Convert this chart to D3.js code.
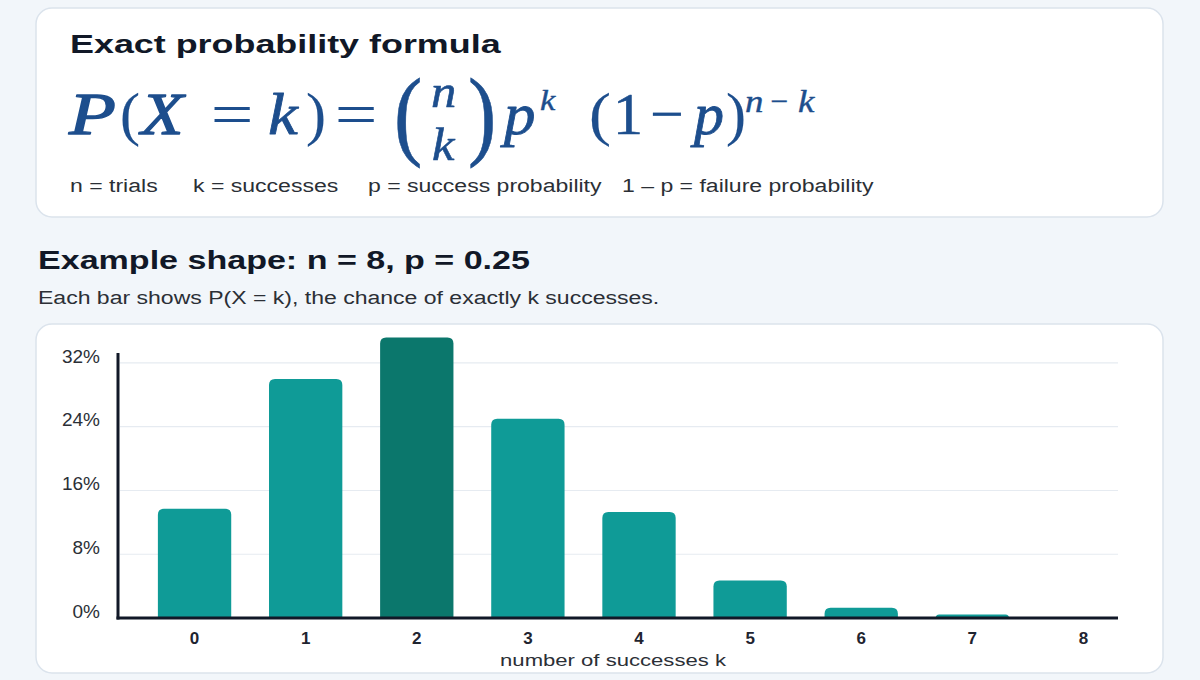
<!DOCTYPE html>
<html><head><meta charset="utf-8">
<script src="https://cdn.jsdelivr.net/npm/d3@7"></script>
<style>
html,body{margin:0;padding:0;background:#f2f6fa;}
svg{display:block;}
</style></head>
<body>
<svg id="c" width="1200" height="680"></svg>
<script>
// ---- data ----
const categories = ["0","1","2","3","4","5","6","7","8"];
const probabilities = [0.137, 0.300, 0.352, 0.250, 0.133, 0.047, 0.013, 0.0045, 0.0];
const yTickValues = [0, 0.08, 0.16, 0.24, 0.32];
const highlightCategory = "2";
const legendItems = ["n = trials", "k = successes", "p = success probability", "1 \u2013 p = failure probability"];
const titleText = "Exact probability formula";
const exampleTitle = "Example shape: n = 8, p = 0.25";
const exampleSub = "Each bar shows P(X = k), the chance of exactly k successes.";
const xAxisLabel = "number of successes k";

const svg = d3.select("#c");
const sans = "'Liberation Sans', Arial, sans-serif";
const serif = "'Liberation Serif', 'Times New Roman', serif";
const ink = "#111827";
const mathBlue = "#1d4e8d";
const bodyInk = "#2b2f36";

function stext(x, y, sx, txt, attrs){
  const t = svg.append("text").attr("transform",`translate(${x},${y}) scale(${sx},1)`).text(txt);
  Object.entries(attrs).forEach(([k,v])=>t.attr(k,v));
  return t;
}

// cards
svg.append("rect").attr("x",36).attr("y",8).attr("width",1127).attr("height",209)
  .attr("rx",16).attr("fill","#ffffff").attr("stroke","#dbe3ec").attr("stroke-width",1.5);
svg.append("rect").attr("x",36).attr("y",324).attr("width",1127).attr("height",349)
  .attr("rx",16).attr("fill","#ffffff").attr("stroke","#dbe3ec").attr("stroke-width",1.5);

// formula card
stext(70, 53, 1.38, titleText, {"font-family":sans,"font-weight":"bold","font-size":26,"fill":ink});

// formula glyph layout: t text, x/y position, s size, i italic, k stroke weight, sx horizontal scale
const pieces = [
  {t:"P", x:69, y:134, s:60, i:true, k:1.3, sx:1.28},
  {t:"(", x:120, y:134, s:60, i:false, k:0.2, sx:1.0},
  {t:"X", x:141, y:134, s:60, i:true, k:1.3, sx:1.16},
  {t:"=", x:211, y:134, s:60, i:false, k:0.2, sx:1.25},
  {t:"k", x:268, y:134, s:60, i:true, k:0.8, sx:1.12},
  {t:")", x:306, y:134, s:60, i:false, k:0.2, sx:1.0},
  {t:"=", x:335, y:134, s:60, i:false, k:0.2, sx:1.25},
  {t:"(", x:394, y:147, s:100, i:false, k:0.6, sx:0.85},
  {t:"n", x:431, y:107, s:46, i:true, k:0.6, sx:1.1},
  {t:"k", x:432, y:160, s:46, i:true, k:0.6, sx:1.1},
  {t:")", x:468, y:147, s:100, i:false, k:0.6, sx:0.85},
  {t:"p", x:504, y:134, s:60, i:true, k:0.8, sx:1.05},
  {t:"k", x:540, y:110, s:30, i:true, k:0.4, sx:1.15},
  {t:"(", x:589, y:134, s:60, i:false, k:0.2, sx:1.1},
  {t:"1", x:613, y:134, s:60, i:false, k:0.6, sx:1.0},
  {t:"\u2212", x:650, y:134, s:60, i:false, k:0.2, sx:1.0},
  {t:"p", x:694, y:134, s:60, i:true, k:0.8, sx:1.0},
  {t:")", x:726, y:134, s:60, i:false, k:0.2, sx:1.0},
  {t:"n", x:745, y:112, s:32, i:true, k:0.4, sx:1.15},
  {t:"\u2212", x:770, y:112, s:32, i:false, k:0.2, sx:1.0},
  {t:"k", x:798, y:112, s:32, i:true, k:0.4, sx:1.15}
];
svg.append("g").selectAll("text").data(pieces).join("text")
  .attr("transform", d=>`translate(${d.x},${d.y}) scale(${d.sx},1)`)
  .attr("font-family", serif).attr("font-size", d=>d.s)
  .attr("font-style", d=>d.i?"italic":"normal")
  .attr("fill", mathBlue).attr("stroke", mathBlue).attr("stroke-width", d=>d.k)
  .attr("stroke-linejoin","round").text(d=>d.t);

const legendX = [70, 193, 368, 622];
svg.append("g").selectAll("text").data(legendItems).join("text")
  .attr("transform",(d,i)=>`translate(${legendX[i]},192) scale(1.28,1)`)
  .attr("font-family",sans).attr("font-size",18).attr("fill",bodyInk).text(d=>d);

// example heading
stext(38, 269, 1.31, exampleTitle, {"font-family":sans,"font-weight":"bold","font-size":26,"fill":ink});
stext(38, 304, 1.28, exampleSub, {"font-family":sans,"font-size":18,"fill":bodyInk});

// chart
const x0 = 118, x1 = 1118, yBase = 618, yTop = 353;
const x = d3.scaleBand().domain(categories).range([139, 1139]).paddingInner(0.34).paddingOuter(0.17);
const y = d3.scaleLinear().domain([0, 0.3325]).range([yBase, yTop]);

svg.append("g").selectAll("line").data(yTickValues.filter(v=>v>0)).join("line")
  .attr("x1",x0+2).attr("x2",x1).attr("y1",d=>y(d)).attr("y2",d=>y(d))
  .attr("stroke","#e6ebf1").attr("stroke-width",1.2);

const yAxis = d3.axisLeft(y).tickValues(yTickValues).tickSize(0).tickPadding(0)
  .tickFormat(d=>d3.format(".0f")(d*100)+"%");
const ya = svg.append("g").attr("transform",`translate(100,0)`).call(yAxis);
ya.select(".domain").remove();
ya.selectAll("text").attr("font-family",sans).attr("font-size",19).attr("fill",bodyInk).attr("dy","-0.05em");

function barPath(d){
  const bx = x(d.k), w = x.bandwidth(), top = y(d.v), h = yBase - top;
  if (h <= 0) return "";
  const r = Math.min(6, h, w/2);
  return `M${bx},${yBase}V${top+r}Q${bx},${top} ${bx+r},${top}H${bx+w-r}Q${bx+w},${top} ${bx+w},${top+r}V${yBase}Z`;
}
const data = categories.map((k,i)=>({k, v: probabilities[i]}));
svg.append("g").selectAll("path").data(data).join("path")
  .attr("d", barPath)
  .attr("fill", d => d.k === highlightCategory ? "#0b776c" : "#0f9b97");

svg.append("line").attr("x1",x0).attr("x2",x0).attr("y1",yTop).attr("y2",yBase+1.5)
  .attr("stroke",ink).attr("stroke-width",3);
svg.append("line").attr("x1",x0-1.5).attr("x2",x1).attr("y1",yBase).attr("y2",yBase)
  .attr("stroke",ink).attr("stroke-width",3);

const xAxis = d3.axisBottom(x).tickSize(0).tickPadding(0);
const xa = svg.append("g").attr("transform",`translate(0,${yBase})`).call(xAxis);
xa.select(".domain").remove();
xa.selectAll("text").attr("font-family",sans).attr("font-weight","bold").attr("font-size",17)
  .attr("fill","#1f2430").attr("dy","1.55em");

svg.append("text").attr("transform","translate(613,666) scale(1.3,1)").attr("text-anchor","middle").attr("font-family",sans)
  .attr("font-size",17).attr("fill",bodyInk).text(xAxisLabel);
</script>
</body></html>
